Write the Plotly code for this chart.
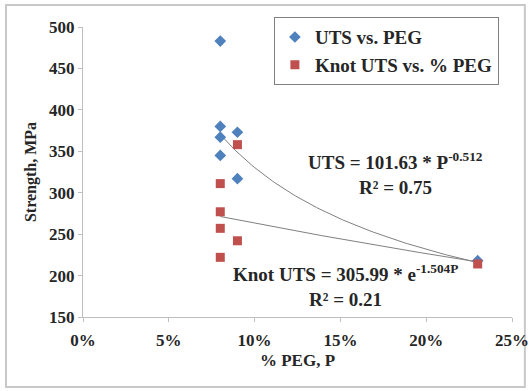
import numpy as np
import plotly.graph_objects as go

# Data
uts_peg = [0.08, 0.08, 0.08, 0.08, 0.09, 0.09, 0.23]
uts_val = [483, 380, 367, 345, 373, 317, 218]
knot_peg = [0.08, 0.08, 0.08, 0.08, 0.09, 0.09, 0.23]
knot_val = [311, 277, 257, 222, 358, 242, 214]

# Trendline equations shown on the chart
uts_a, uts_b = 101.63, -0.512
knot_a, knot_b = 305.99, -1.504
x_tick_vals = [0, 0.05, 0.10, 0.15, 0.20, 0.25]
y_tick_vals = [150, 200, 250, 300, 350, 400, 450, 500]

FONT = "Liberation Serif"
BLUE = "#4F81BD"
RED = "#C0504D"
TXT = "#262626"

xt = np.linspace(min(uts_peg), max(uts_peg), 100)
uts_fit = uts_a * xt ** uts_b
knot_fit = knot_a * np.exp(knot_b * xt)

fig = go.Figure()
fig.add_trace(go.Scatter(x=xt, y=uts_fit, mode="lines", line=dict(color="#808080", width=1),
                         showlegend=False, hoverinfo="skip"))
fig.add_trace(go.Scatter(x=xt, y=knot_fit, mode="lines", line=dict(color="#808080", width=1),
                         showlegend=False, hoverinfo="skip"))
fig.add_trace(go.Scatter(x=uts_peg, y=uts_val, mode="markers", name="UTS vs. PEG",
                         marker=dict(symbol="diamond", size=9, color=BLUE)))
fig.add_trace(go.Scatter(x=knot_peg, y=knot_val, mode="markers", name="Knot UTS vs. % PEG",
                         marker=dict(symbol="square", size=9, color=RED)))

afont = dict(family=FONT, size=19, color=TXT, weight="bold")
fig.add_annotation(x=0.182, y=338, xref="x", yref="y", showarrow=False,
                   text="UTS = 101.63 * P<sup>-0.512</sup>", font=afont)
fig.add_annotation(x=0.182, y=306, xref="x", yref="y", showarrow=False,
                   text="R² = 0.75", font=afont)
fig.add_annotation(x=0.1527, y=203, xref="x", yref="y", showarrow=False,
                   text="Knot UTS = 305.99 * e<sup>-1.504P</sup>", font=afont)
fig.add_annotation(x=0.1527, y=171, xref="x", yref="y", showarrow=False,
                   text="R² = 0.21", font=afont)

# outer chart border
fig.add_shape(type="rect", xref="paper", yref="paper", x0=-0.1795, x1=1.030, y0=-0.241, y1=1.076,
              line=dict(color="#C8C8C8", width=2), fillcolor="rgba(0,0,0,0)", layer="below")

tfont = dict(family=FONT, size=17, color=TXT, weight="bold")
fig.update_layout(
    width=529, height=391,
    margin=dict(l=83, r=17, t=27, b=74),
    paper_bgcolor="white", plot_bgcolor="white",
    font=dict(family=FONT, size=13, color=TXT),
    legend=dict(x=0.445, y=1.034, xanchor="left", yanchor="top",
                bordercolor="#808080", borderwidth=1, bgcolor="white",
                font=dict(family=FONT, size=19, color=TXT, weight="bold"),
                tracegroupgap=0, itemwidth=30),
    xaxis=dict(range=[0, 0.25], tickvals=x_tick_vals, tickformat=".0%", automargin=False,
               showgrid=False, zeroline=False, showline=True, linecolor="#BFBFBF", linewidth=1,
               ticks="outside", ticklen=4, tickcolor="#BFBFBF", ticklabelstandoff=4,
               title=dict(text="% PEG, P", font=dict(family=FONT, size=17, color=TXT, weight="bold"), standoff=4),
               tickfont=tfont),
    yaxis=dict(range=[150, 500], tickvals=y_tick_vals, automargin=False,
               showgrid=False, zeroline=False, showline=True, linecolor="#BFBFBF", linewidth=1,
               ticks="outside", ticklen=4, tickcolor="#BFBFBF",
               title=dict(text="Strength, MPa", font=dict(family=FONT, size=16, color=TXT, weight="bold"), standoff=8),
               tickfont=tfont),
)

fig.write_html("out.html")
